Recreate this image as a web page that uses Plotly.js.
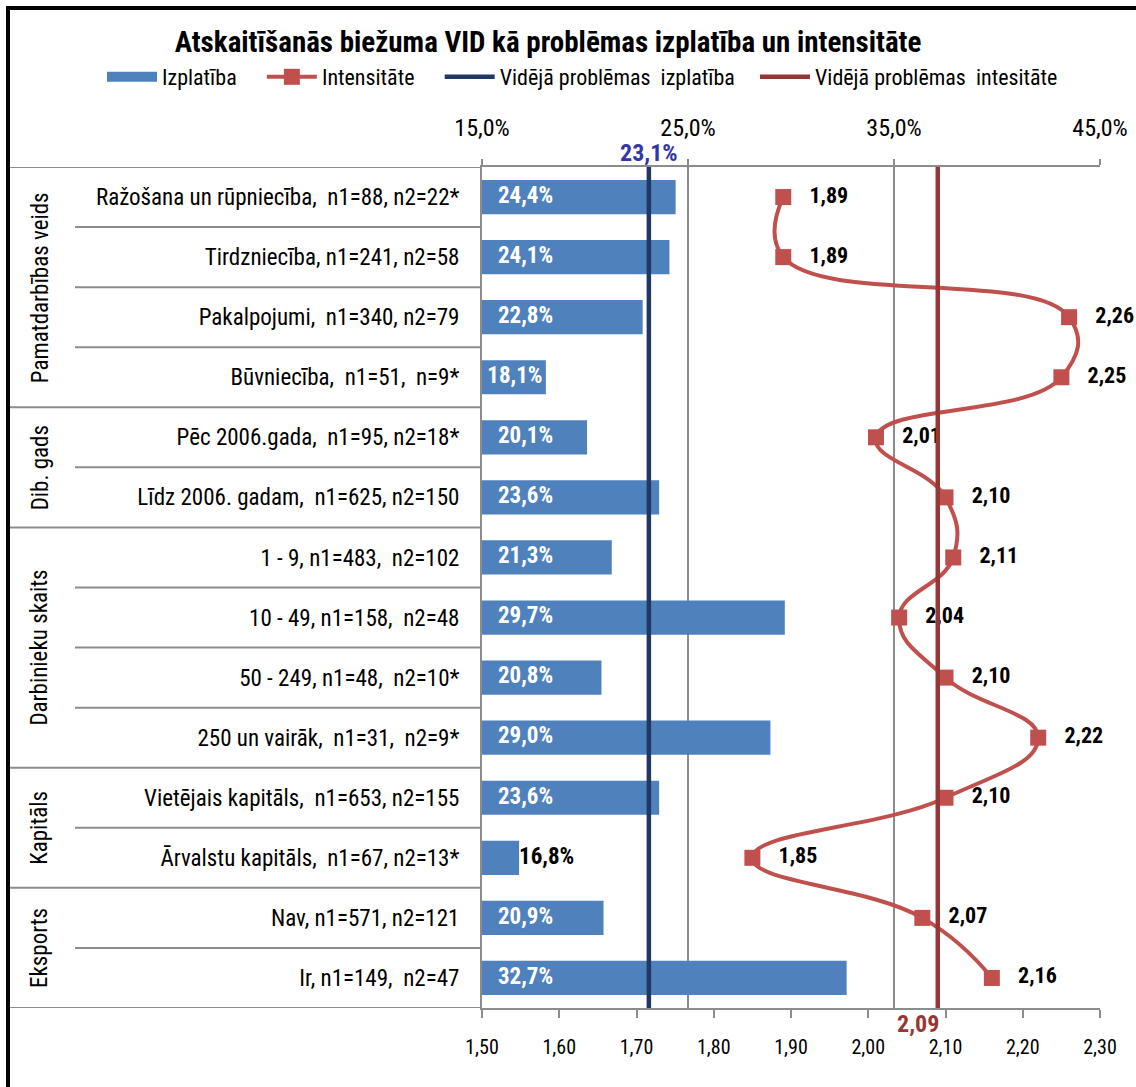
<!DOCTYPE html>
<html>
<head>
<meta charset="utf-8">
<script src="https://cdn.plot.ly/plotly-3.0.1.min.js"></script>
<style>
  html, body { margin: 0; padding: 0; background: #fff; }
  #chart { width: 1136px; height: 1087px; }
</style>
</head>
<body>
<div id="chart"></div>
<script>
// ---- data ----
const categories = [
  "Ražošana un rūpniecība,  n1=88, n2=22*",
  "Tirdzniecība, n1=241, n2=58",
  "Pakalpojumi,  n1=340, n2=79",
  "Būvniecība,  n1=51,  n=9*",
  "Pēc 2006.gada,  n1=95, n2=18*",
  "Līdz 2006. gadam,  n1=625, n2=150",
  "1 - 9, n1=483,  n2=102",
  "10 - 49, n1=158,  n2=48",
  "50 - 249, n1=48,  n2=10*",
  "250 un vairāk,  n1=31,  n2=9*",
  "Vietējais kapitāls,  n1=653, n2=155",
  "Ārvalstu kapitāls,  n1=67, n2=13*",
  "Nav, n1=571, n2=121",
  "Ir, n1=149,  n2=47"
];
const groups = ["Pamatdarbības veids", "Dib. gads", "Darbinieku skaits", "Kapitāls", "Eksports"];
const groupSizes = [4, 2, 4, 2, 2];
const izplatiba = [24.4, 24.1, 22.8, 18.1, 20.1, 23.6, 21.3, 29.7, 20.8, 29.0, 23.6, 16.8, 20.9, 32.7];
const intensitate = [1.89, 1.89, 2.26, 2.25, 2.01, 2.10, 2.11, 2.04, 2.10, 2.22, 2.10, 1.85, 2.07, 2.16];
const avgIzplatiba = 23.1;
const avgIntensitate = 2.09;
const seriesNames = ["Izplatība", "Intensitāte", "Vidējā problēmas  izplatība", "Vidējā problēmas  intesitāte"];
const chartTitle = "Atskaitīšanās biežuma VID kā problēmas izplatība un intensitāte";
const izplAxisRange = [15, 45];
const intAxisRange = [1.5, 2.3];

// ---- style ----
const FONT = "'Roboto Condensed', 'Liberation Sans Narrow', 'Liberation Sans', sans-serif";
const BLUE = "#4F81BD", RED = "#C0504D", NAVY = "#1F3864", DRED = "#953735", GRID = "#8C8C8C";
const NB = "\u00a0";
const L = 482, R = 1100, T = 167, B = 1008;
const px2x = p => (p - L) / (R - L);
const px2y = p => (B - p) / (B - T);

const idx = categories.map((_, i) => i);
const n = categories.length;
const fmt = (v, d) => v.toFixed(d).replace('.', ',');
const nbsp = s => s.replace(/  /g, NB + ' ');
const base = izplAxisRange[0];
const fits = v => v - base >= 2.5;           // label fits inside the bar
const pad = v => (v - base >= 4 ? NB + NB + NB : NB); // inner left padding
const trail = k => NB.repeat(k);              // legend spacing

const traces = [
  {
    type: 'bar', orientation: 'h', name: seriesNames[0], showlegend: false,
    x: izplatiba, y: idx, xaxis: 'x2', yaxis: 'y',
    width: 0.57, marker: { color: BLUE }, hoverinfo: 'x+y'
  },
  // bar value labels (inside at bar base in white, or outside in black)
  {
    type: 'scatter', mode: 'text', showlegend: false, hoverinfo: 'skip',
    x: izplatiba.map(v => fits(v) ? base : v), y: idx, xaxis: 'x2', yaxis: 'y',
    text: izplatiba.map(v => (fits(v) ? pad(v) : '') + fmt(v, 1) + '%'),
    textposition: 'middle right', cliponaxis: false,
    textfont: { family: FONT, size: 23, weight: 'bold', color: izplatiba.map(v => fits(v) ? '#ffffff' : '#000000') }
  },
  // legend proxy for bar (wide rectangle)
  {
    type: 'scatter', mode: 'lines', name: seriesNames[0] + trail(4), x: [null], y: [null],
    line: { color: BLUE, width: 14 }, xaxis: 'x', yaxis: 'y'
  },
  {
    type: 'scatter', mode: 'lines+markers+text', name: seriesNames[1] + trail(4),
    x: intensitate, y: idx, xaxis: 'x', yaxis: 'y',
    line: { color: RED, width: 4, shape: 'spline', smoothing: 1.3 },
    marker: { symbol: 'square', size: 16, color: RED },
    text: intensitate.map(v => NB + NB + NB + fmt(v, 2)),
    textposition: 'middle right', cliponaxis: false,
    textfont: { family: FONT, size: 22, color: '#000', weight: 'bold' }
  },
  {
    type: 'scatter', mode: 'lines', name: nbsp(seriesNames[2]) + trail(3),
    x: [avgIzplatiba, avgIzplatiba], y: [-0.5, n - 0.5], xaxis: 'x2', yaxis: 'y',
    line: { color: NAVY, width: 4.5 }, hoverinfo: 'skip'
  },
  {
    type: 'scatter', mode: 'lines', name: nbsp(seriesNames[3]),
    x: [avgIntensitate, avgIntensitate], y: [-0.5, n - 0.5], xaxis: 'x', yaxis: 'y',
    line: { color: DRED, width: 4.5 }, hoverinfo: 'skip'
  }
];

const shapes = [];
// chart border (left + top black)
shapes.push({ type: 'line', xref: 'paper', yref: 'paper', x0: px2x(8), x1: px2x(1140), y0: px2y(8), y1: px2y(8), line: { color: '#000', width: 4 } });
shapes.push({ type: 'line', xref: 'paper', yref: 'paper', x0: px2x(8), x1: px2x(8), y0: px2y(6), y1: px2y(1090), line: { color: '#000', width: 4 } });
// separators in category area
let acc = 0;
const groupEnds = new Set();
groupSizes.forEach(s => { acc += s; groupEnds.add(acc - 1); });
shapes.push({ type: 'line', xref: 'paper', yref: 'y', x0: px2x(10), x1: 0, y0: -0.5, y1: -0.5, line: { color: GRID, width: 2 } });
for (let i = 0; i < n; i++) {
  const full = groupEnds.has(i);
  shapes.push({ type: 'line', xref: 'paper', yref: 'y', x0: full ? px2x(10) : px2x(75), x1: 0, y0: i + 0.5, y1: i + 0.5, line: { color: GRID, width: 2 } });
}

const annotations = [];
// group labels
acc = 0;
groups.forEach((g, k) => {
  const c = acc + (groupSizes[k] - 1) / 2;
  acc += groupSizes[k];
  annotations.push({ text: g, xref: 'paper', yref: 'y', x: px2x(40), y: c, textangle: -90, showarrow: false,
    font: { family: FONT, size: 23, color: '#000' }, xanchor: 'center', yanchor: 'middle' });
});
// average labels
annotations.push({ text: fmt(avgIzplatiba, 1) + '%', xref: 'x2', yref: 'paper', x: avgIzplatiba, y: px2y(153), showarrow: false,
  font: { family: FONT, size: 24, color: '#3535A5', weight: 'bold' }, xanchor: 'center', yanchor: 'middle' });
annotations.push({ text: fmt(avgIntensitate, 2), xref: 'x', yref: 'paper', x: avgIntensitate, y: px2y(1024), showarrow: false,
  font: { family: FONT, size: 24, color: DRED, weight: 'bold' }, xanchor: 'right', xshift: 3, yanchor: 'middle' });

const layout = {
  width: 1136, height: 1087,
  margin: { l: L, r: 1136 - R, t: T, b: 1087 - B, pad: 0 },
  paper_bgcolor: '#fff', plot_bgcolor: '#fff',
  separators: ', ',
  font: { family: FONT, size: 23, color: '#000' },
  title: { text: '<b>' + chartTitle + '</b>', x: 548 / 1136, xanchor: 'center', y: 1 - 42 / 1087, yanchor: 'middle',
    font: { family: FONT, size: 29, color: '#000' } },
  showlegend: true,
  legend: { orientation: 'h', x: px2x(102), xanchor: 'left', y: px2y(77), yanchor: 'middle',
    font: { family: FONT, size: 22, color: '#000' }, itemwidth: 50, bgcolor: 'rgba(0,0,0,0)', traceorder: 'normal' },
  xaxis: {
    range: intAxisRange, dtick: 0.1, tick0: intAxisRange[0], tickformat: '.2f', side: 'bottom',
    showgrid: false, zeroline: false, showline: true, linecolor: GRID, linewidth: 2,
    ticks: 'outside', ticklen: 8, tickcolor: GRID, tickwidth: 2, ticklabelstandoff: 12,
    tickfont: { family: FONT, size: 20, color: '#000' }
  },
  xaxis2: {
    range: izplAxisRange, dtick: 10, tick0: izplAxisRange[0], tickformat: '.1f', ticksuffix: '%', side: 'top', overlaying: 'x',
    showgrid: true, gridcolor: GRID, gridwidth: 2, zeroline: false, showline: true, linecolor: GRID, linewidth: 2,
    ticks: 'outside', ticklen: 6, tickcolor: GRID, tickwidth: 2, ticklabelstandoff: 13,
    tickfont: { family: FONT, size: 24, color: '#000' }
  },
  yaxis: {
    range: [n - 0.5, -0.5], tickvals: idx, ticktext: categories.map(nbsp),
    showgrid: false, zeroline: false, showline: true, linecolor: GRID, linewidth: 2,
    ticks: '', ticklabelstandoff: 16, tickfont: { family: FONT, size: 23, color: '#000' }
  },
  shapes: shapes,
  annotations: annotations
};

Plotly.newPlot('chart', traces, layout, { displayModeBar: false, staticPlot: true });
</script>
</body>
</html>
